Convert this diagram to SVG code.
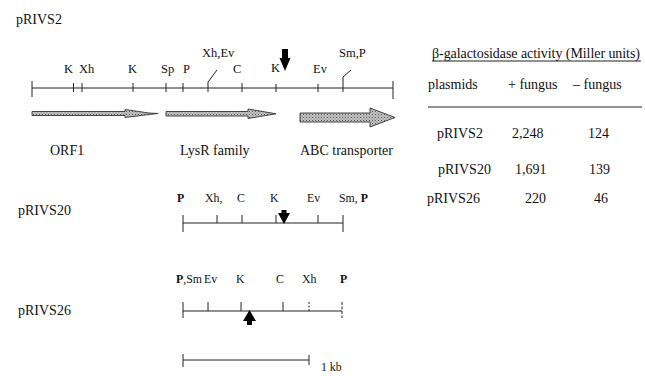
<svg xmlns="http://www.w3.org/2000/svg" width="645" height="376" viewBox="0 0 645 376">
<style>
text{font-family:"Liberation Serif","Times New Roman",serif;fill:#111}
.t{font-size:14px}
.m{font-size:12.5px}
.s{font-size:11.8px}
.b{font-weight:bold}
.ln{stroke:#222;stroke-width:1;fill:none}
.gene{stroke:#333;stroke-width:0.9}
.ah{fill:#000}
</style>
<defs>
<pattern id="stip" width="3" height="3" patternUnits="userSpaceOnUse">
<rect width="3" height="3" fill="#c4c4c4"/>
<rect x="0" y="0" width="1" height="1" fill="#555"/>
<rect x="1.5" y="1.5" width="1" height="1" fill="#777"/>
</pattern>
</defs>

<g id="title-pRIVS2"><text class="t" x="16" y="24">pRIVS2</text></g>

<g id="map-pRIVS2">
<line class="ln" x1="32" y1="88" x2="393" y2="88"/>
<line class="ln" x1="32" y1="81" x2="32" y2="97"/>
<line class="ln" x1="393" y1="81" x2="393" y2="99"/>
<line class="ln" x1="73.5" y1="83" x2="73.5" y2="92"/>
<line class="ln" x1="82" y1="83" x2="82" y2="92"/>
<line class="ln" x1="133" y1="83" x2="133" y2="92"/>
<line class="ln" x1="166" y1="83" x2="166" y2="92"/>
<line class="ln" x1="183" y1="83" x2="183" y2="92"/>
<polyline class="ln" points="208,92 208,82 217,70"/>
<line class="ln" x1="242" y1="83" x2="242" y2="92"/>
<line class="ln" x1="276" y1="84" x2="276" y2="92"/>
<line class="ln" x1="318" y1="84" x2="318" y2="92"/>
<polyline class="ln" points="343,92 343,77 351,70"/>
<text class="m" x="64" y="73">K</text>
<text class="m" x="79" y="73">Xh</text>
<text class="m" x="128" y="73">K</text>
<text class="m" x="161" y="73">Sp</text>
<text class="m" x="183" y="73">P</text>
<text class="m" x="202" y="57">Xh,Ev</text>
<text class="m" x="233" y="73">C</text>
<text class="m" x="271" y="72">K</text>
<text class="m" x="313" y="73">Ev</text>
<text class="m" x="339" y="57">Sm,P</text>
<polygon class="ah" points="282,49 288,49 288,58 290.5,58 285,71 279.5,58 282,58"/>
</g>

<g id="gene-ORF1">
<polygon class="gene" style="fill:url(#stip)" points="32,111.5 125,111.5 125,109.5 149,113 158,113.5 149,114.5 125,117.5 125,115.5 32,115.5"/>
<text class="t" x="50" y="155">ORF1</text>
</g>
<g id="gene-LysR">
<polygon class="gene" style="fill:url(#stip)" points="166,111.5 248,111.5 248,109 276,113.8 248,118.5 248,116 166,116"/>
<text class="t" x="180" y="155">LysR family</text>
</g>
<g id="gene-ABC">
<polygon class="gene" style="fill:url(#stip)" points="300,113 370,113 370,108 395,117.5 370,127 370,122 300,122"/>
<text class="t" x="300" y="155">ABC transporter</text>
</g>

<g id="map-pRIVS20">
<text class="t" x="18" y="215">pRIVS20</text>
<line class="ln" x1="183" y1="223" x2="343" y2="223"/>
<line class="ln" x1="183" y1="215" x2="183" y2="232"/>
<line class="ln" x1="343" y1="215" x2="343" y2="232"/>
<line class="ln" x1="217" y1="215" x2="217" y2="223"/>
<line class="ln" x1="242" y1="215" x2="242" y2="223"/>
<line class="ln" x1="276" y1="215" x2="276" y2="223"/>
<line class="ln" x1="318" y1="215" x2="318" y2="223"/>
<polygon class="ah" points="281.5,210 286.5,210 286.5,213 290,213 284,224 278,213 281.5,213"/>
<text class="s b" x="177" y="202">P</text>
<text class="s" x="205" y="202">Xh,</text>
<text class="s" x="237" y="202">C</text>
<text class="s" x="270" y="202">K</text>
<text class="s" x="307" y="202">Ev</text>
<text class="s" x="339" y="202">Sm, <tspan class="b">P</tspan></text>
</g>

<g id="map-pRIVS26">
<text class="t" x="18" y="315">pRIVS26</text>
<line class="ln" x1="183" y1="311" x2="342" y2="311"/>
<line class="ln" x1="183" y1="302" x2="183" y2="318"/>
<line class="ln" x1="342" y1="302" x2="342" y2="318" stroke-dasharray="3,1.5"/>
<line class="ln" x1="208" y1="302" x2="208" y2="311"/>
<line class="ln" x1="241" y1="302" x2="241" y2="311"/>
<line class="ln" x1="283" y1="302" x2="283" y2="311"/>
<line class="ln" x1="309" y1="302" x2="309" y2="311" stroke-dasharray="2,1.5"/>
<polygon class="ah" points="249.5,310 256,321 252,321 252,325 247,325 247,321 243,321"/>
<text class="s" x="176" y="283"><tspan class="b">P</tspan>,Sm</text>
<text class="s" x="204" y="283">Ev</text>
<text class="s" x="236" y="283">K</text>
<text class="s" x="276" y="283">C</text>
<text class="s" x="302" y="283">Xh</text>
<text class="s b" x="340" y="283">P</text>
</g>

<g id="scale-bar">
<line class="ln" x1="183" y1="360" x2="309" y2="360"/>
<line class="ln" x1="183" y1="354" x2="183" y2="367"/>
<line class="ln" x1="309" y1="355" x2="309" y2="365"/>
<text class="s" x="321" y="371">1 kb</text>
</g>

<g id="table">
<text class="t" x="432" y="58" textLength="208">β-galactosidase activity (Miller units)</text>
<line class="ln" x1="432" y1="61" x2="641" y2="61"/>
<text class="t" x="428" y="89">plasmids</text>
<text class="t" x="508" y="89">+ fungus</text>
<text class="t" x="573" y="89">– fungus</text>
<line class="ln" x1="428" y1="107" x2="642" y2="107"/>
<text class="t" x="437" y="138">pRIVS2</text>
<text class="t" x="512" y="138">2,248</text>
<text class="t" x="588" y="138">124</text>
<text class="t" x="438" y="174">pRIVS20</text>
<text class="t" x="515" y="174">1,691</text>
<text class="t" x="589" y="174">139</text>
<text class="t" x="427" y="203">pRIVS26</text>
<text class="t" x="525" y="203">220</text>
<text class="t" x="594" y="203">46</text>
</g>
</svg>
